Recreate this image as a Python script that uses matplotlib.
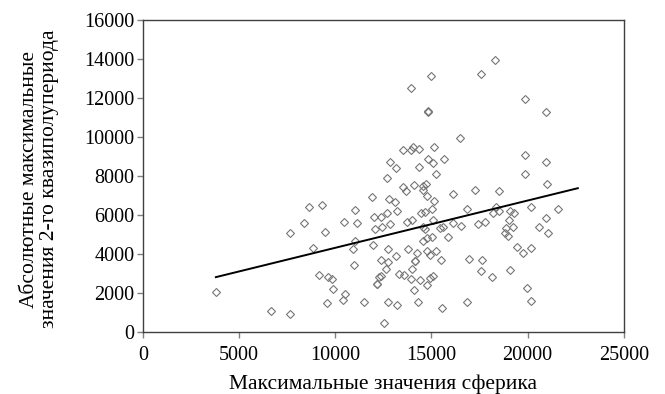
import numpy as np
import matplotlib
matplotlib.use('Agg')
import matplotlib.pyplot as plt

# максимальные значения сферика (ось X)
sferik = [
    18300, 17570, 14970, 13930, 19860, 20950, 14810, 14810, 16480,
    13500, 13930, 14040, 14350, 15130, 12840, 13150, 14350, 14810, 15070,
    15650, 15230, 12680, 19860, 20950, 19860,
    11900, 12790, 13100, 8630, 9300, 11020, 12680, 13200, 8370, 10450,
    11120, 12010, 12370, 12060, 12420, 12840, 7640, 9460, 11020, 11960,
    8840, 10920, 12740, 13150, 12370, 12740, 10970, 12630, 13310, 9150,
    9620, 9820, 12370, 12270, 12160, 12160, 9880, 3790, 10500, 10400,
    9560, 11490, 12740, 13200, 6650, 7640, 12530,
    21000, 13510, 13670, 14090, 14550, 14710, 14550, 14760, 15130, 16110,
    17260, 18500, 14450, 14660, 15020, 16840, 18350, 18190, 18500, 19080,
    19290, 20170, 21570, 13720, 13980, 14550, 14660, 15070, 15440, 15590,
    16110, 16530, 17410, 17780, 19030, 18870, 19230, 18820, 18970, 20580,
    20950, 21050, 14550, 14760, 15020, 15850, 13770, 14240, 14760, 14920,
    15230, 15490, 16950, 17620, 19440, 19750, 20170, 14140, 14140, 13980,
    13570, 13930, 14400, 14920, 15070, 14760, 14090, 17570, 18140, 19080,
    19960, 20170, 14290, 15540, 16840,
]

# абсолютные максимальные значения 2-го квазиполупериода (ось Y)
kvazi = [
    13950, 13230, 13130, 12510, 11950, 11280, 11280, 11330, 9950,
    9340, 9340, 9490, 9390, 9490, 8720, 8410, 8460, 8870, 8670,
    8870, 8100, 7900, 9080, 8720, 8100,
    6920, 6820, 6670, 6410, 6510, 6260, 6100, 6200, 5590, 5640,
    5590, 5900, 5900, 5280, 5380, 5540, 5080, 5130, 4670, 4460,
    4310, 4260, 4260, 3900, 3690, 3590, 3440, 3230, 2970, 2920,
    2820, 2720, 2870, 2820, 2460, 2460, 2200, 2050, 1950, 1640,
    1490, 1540, 1540, 1380, 1080, 920, 460,
    7590, 7440, 7230, 7540, 7490, 7590, 7280, 6970, 6720, 7080,
    7280, 7230, 6100, 6150, 6310, 6310, 6410, 6100, 6200, 6200,
    6100, 6410, 6310, 5640, 5740, 5380, 5280, 5740, 5330, 5380,
    5590, 5440, 5540, 5640, 5740, 5330, 5380, 5080, 4920, 5380,
    5850, 5080, 4670, 4820, 4870, 4870, 4260, 4050, 4160, 3950,
    4160, 3690, 3740, 3690, 4360, 4050, 4310, 3640, 3640, 3230,
    2920, 2720, 2670, 2770, 2870, 2410, 2150, 3130, 2820, 3180,
    2260, 1590, 1540, 1230, 1540,
]

# линия тренда (концы)
trend_x = [3790, 22610]
trend_y = [2820, 7380]

xticks = [0, 5000, 10000, 15000, 20000, 25000]
yticks = [0, 2000, 4000, 6000, 8000, 10000, 12000, 14000, 16000]

plt.rcParams['font.family'] = ['Liberation Serif', 'DejaVu Serif']

fig = plt.figure(figsize=(6.65, 3.94), dpi=100)
ax = fig.add_axes([0.215, 0.157, 0.723, 0.792])

ax.plot(sferik, kvazi, linestyle='none', marker='D', markersize=4,
        markerfacecolor='none', markeredgecolor='#767676', markeredgewidth=0.8)
ax.plot(trend_x, trend_y, color='black', linewidth=1.4)

ax.set_xlim(0, 25000)
ax.set_ylim(0, 16000)
ax.set_xticks(xticks)
ax.set_yticks(yticks)
ax.tick_params(direction='out', length=4, width=1, color='#808080',
               labelsize=14.5, labelcolor='black')
ax.tick_params(axis='x', pad=6)
ax.tick_params(axis='y', pad=2)
for s in ax.spines.values():
    s.set_color('#404040')
    s.set_linewidth(1.0)

ax.set_xlabel('Максимальные значения сферика', fontsize=15.5, labelpad=7)
ax.set_ylabel('Абсолютные максимальные\nзначения 2-го квазиполупериода',
              fontsize=15.5, linespacing=1.08)
ax.yaxis.set_label_coords(-0.175, 0.49)

fig.savefig('out.png', dpi=100)
